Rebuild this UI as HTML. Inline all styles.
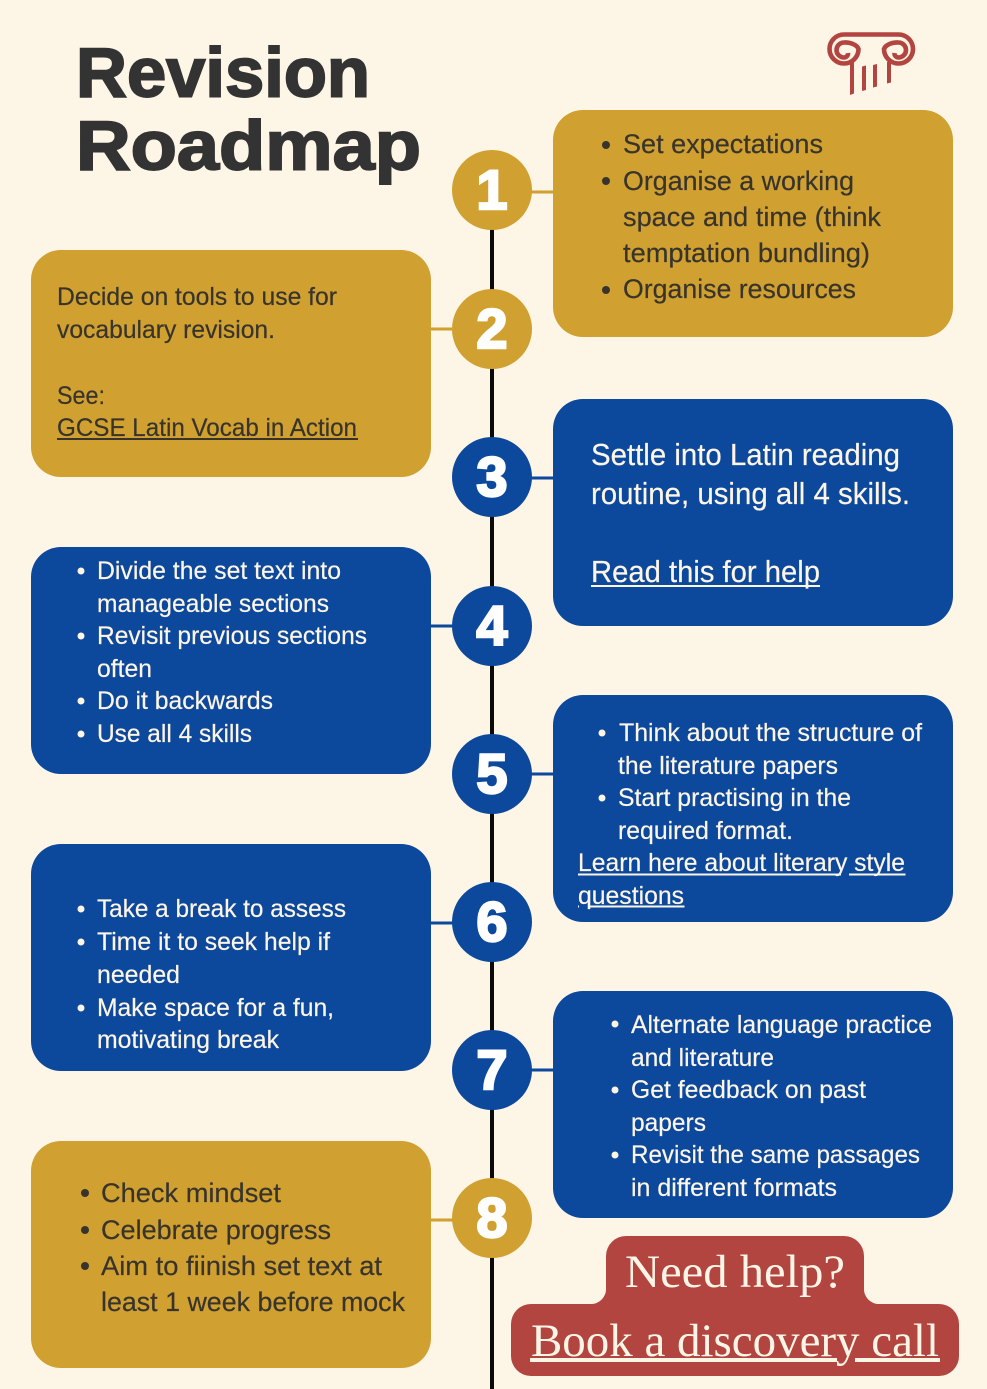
<!DOCTYPE html>
<html><head><meta charset="utf-8">
<style>
html,body{margin:0;padding:0;background:#FDF5E6;}
svg{display:block;}
text{font-family:"Liberation Sans",sans-serif;white-space:pre;}
.g{fill:#38342c;font-size:27px;stroke:#38342c;stroke-width:.2px;}
.s{fill:#38342c;font-size:25px;stroke:#38342c;stroke-width:.2px;}
.w{fill:#FDF5E6;font-size:25px;stroke:#FDF5E6;stroke-width:.2px;}
.b{fill:#FDF5E6;font-size:31px;stroke:#FDF5E6;stroke-width:.2px;}
.n{fill:#fff;font-size:56px;font-weight:bold;stroke:#fff;stroke-width:2.4px;text-anchor:middle;}
.t{fill:#333;font-size:70px;font-weight:bold;stroke:#333;stroke-width:1.9px;}
.r{fill:#FDF5E6;font-family:"Liberation Serif",serif;font-size:47px;}
</style></head><body>
<svg xmlns="http://www.w3.org/2000/svg" width="987" height="1389" viewBox="0 0 987 1389">
<rect width="987" height="1389" fill="#FDF5E6"/>

<!-- title -->
<text class="t" x="76" y="96.500" textLength="294" lengthAdjust="spacingAndGlyphs">Revision</text>
<text class="t" x="76" y="169.500" textLength="345" lengthAdjust="spacingAndGlyphs">Roadmap</text>

<!-- column icon -->
<g fill="none" stroke="#B34540" stroke-width="4.6">
<path d="M844 34.500H898.500"/>
<path d="M844 34.500A14.500 14.500 0 0 0 844 63.500A14.500 14.500 0 0 0 858.500 49A14 8 0 0 0 844 42.500A7.500 7.500 0 0 0 844 57.500A4 4 0 0 0 848 53"/>
<path d="M898.500 34.500A14.500 14.500 0 0 1 898.500 63.500A14.500 14.500 0 0 1 884 49A14 8 0 0 1 898.500 42.500A7.500 7.500 0 0 1 898.500 57.500A4 4 0 0 1 894.500 53"/>
</g>
<g fill="#B34540">
<polygon points="850,62 854,62 854,93.500 850,95"/>
<polygon points="862,66.500 866,65.500 866,90 862,91"/>
<polygon points="873,65 877,64 877,86.500 873,87.500"/>
<polygon points="887,62 891,62 891,82.500 887,83.500"/>
</g>

<!-- spine -->
<rect x="490" y="190" width="4" height="1199" fill="#0a0a0a"/>

<!-- connectors -->
<g>
<rect x="530" y="190.500" width="25" height="3" fill="#D0A030"/>
<rect x="429" y="327.500" width="25" height="3" fill="#D0A030"/>
<rect x="530" y="476.500" width="25" height="3" fill="#0C489C"/>
<rect x="429" y="624.500" width="25" height="3" fill="#0C489C"/>
<rect x="530" y="772.500" width="25" height="3" fill="#0C489C"/>
<rect x="429" y="921.500" width="25" height="3" fill="#0C489C"/>
<rect x="530" y="1068.500" width="25" height="3" fill="#0C489C"/>
<rect x="429" y="1218.500" width="25" height="3" fill="#D0A030"/>
</g>

<!-- boxes -->
<rect x="553" y="110" width="400" height="227" rx="30" fill="#D0A030"/>
<rect x="31" y="250" width="400" height="227" rx="30" fill="#D0A030"/>
<rect x="553" y="399" width="400" height="227" rx="30" fill="#0C489C"/>
<rect x="31" y="547" width="400" height="227" rx="30" fill="#0C489C"/>
<rect x="553" y="695" width="400" height="227" rx="30" fill="#0C489C"/>
<rect x="31" y="844" width="400" height="227" rx="30" fill="#0C489C"/>
<rect x="553" y="991" width="400" height="227" rx="30" fill="#0C489C"/>
<rect x="31" y="1141" width="400" height="227" rx="30" fill="#D0A030"/>

<!-- circles -->
<circle cx="492" cy="190" r="40" fill="#D0A030"/>
<circle cx="492" cy="329" r="40" fill="#D0A030"/>
<circle cx="492" cy="477" r="40" fill="#0C489C"/>
<circle cx="492" cy="626" r="40" fill="#0C489C"/>
<circle cx="492" cy="774" r="40" fill="#0C489C"/>
<circle cx="492" cy="922" r="40" fill="#0C489C"/>
<circle cx="492" cy="1070" r="40" fill="#0C489C"/>
<circle cx="492" cy="1218" r="40" fill="#D0A030"/>
<text class="n" x="492" y="209">1</text>
<text class="n" x="492" y="348">2</text>
<text class="n" x="492" y="496">3</text>
<text class="n" x="492" y="645">4</text>
<text class="n" x="492" y="793">5</text>
<text class="n" x="492" y="941">6</text>
<text class="n" x="492" y="1089">7</text>
<text class="n" x="492" y="1237">8</text>

<!-- box 1 -->
<g fill="#38342c"><circle cx="606" cy="145" r="4"/><circle cx="606" cy="181" r="4"/><circle cx="606" cy="290" r="4"/></g>
<text class="g" x="623" y="153" textLength="200" lengthAdjust="spacingAndGlyphs">Set expectations</text>
<text class="g" x="623" y="190" textLength="231" lengthAdjust="spacingAndGlyphs">Organise a working</text>
<text class="g" x="623" y="226" textLength="258" lengthAdjust="spacingAndGlyphs">space and time (think</text>
<text class="g" x="623" y="262" textLength="247" lengthAdjust="spacingAndGlyphs">temptation bundling)</text>
<text class="g" x="623" y="298" textLength="233" lengthAdjust="spacingAndGlyphs">Organise resources</text>

<!-- box 2 -->
<text class="s" x="57" y="305" textLength="280" lengthAdjust="spacingAndGlyphs">Decide on tools to use for</text>
<text class="s" x="57" y="338" textLength="218" lengthAdjust="spacingAndGlyphs">vocabulary revision.</text>
<text class="s" x="57" y="404" textLength="48" lengthAdjust="spacingAndGlyphs">See:</text>
<text class="s" x="57" y="436" textLength="300" lengthAdjust="spacingAndGlyphs">GCSE Latin Vocab in Action</text>
<rect x="57" y="438" width="301" height="2" fill="#38342c"/>

<!-- box 3 -->
<text class="b" x="591" y="465" textLength="309" lengthAdjust="spacingAndGlyphs">Settle into Latin reading</text>
<text class="b" x="591" y="504" textLength="319" lengthAdjust="spacingAndGlyphs">routine, using all 4 skills.</text>
<text class="b" x="591" y="582" textLength="229" lengthAdjust="spacingAndGlyphs">Read this for help</text>
<rect x="591" y="585" width="229" height="2" fill="#FDF5E6"/>

<!-- box 4 -->
<g fill="#FDF5E6"><circle cx="81" cy="571" r="3.5"/><circle cx="81" cy="636" r="3.5"/><circle cx="81" cy="701" r="3.5"/><circle cx="81" cy="734" r="3.5"/></g>
<text class="w" x="97" y="579" textLength="244" lengthAdjust="spacingAndGlyphs">Divide the set text into</text>
<text class="w" x="97" y="612" textLength="232" lengthAdjust="spacingAndGlyphs">manageable sections</text>
<text class="w" x="97" y="644" textLength="270" lengthAdjust="spacingAndGlyphs">Revisit previous sections</text>
<text class="w" x="97" y="677" textLength="55" lengthAdjust="spacingAndGlyphs">often</text>
<text class="w" x="97" y="709" textLength="176" lengthAdjust="spacingAndGlyphs">Do it backwards</text>
<text class="w" x="97" y="742" textLength="155" lengthAdjust="spacingAndGlyphs">Use all 4 skills</text>

<!-- box 5 -->
<g fill="#FDF5E6"><circle cx="602" cy="733" r="3.5"/><circle cx="602" cy="798" r="3.5"/></g>
<text class="w" x="619" y="741" textLength="303" lengthAdjust="spacingAndGlyphs">Think about the structure of</text>
<text class="w" x="618" y="774" textLength="220" lengthAdjust="spacingAndGlyphs">the literature papers</text>
<text class="w" x="618" y="806" textLength="233" lengthAdjust="spacingAndGlyphs">Start practising in the</text>
<text class="w" x="618" y="839" textLength="175" lengthAdjust="spacingAndGlyphs">required format.</text>
<text class="w" x="578" y="871" textLength="327" lengthAdjust="spacingAndGlyphs">Learn here about literary style</text>
<text class="w" x="578" y="904" textLength="106" lengthAdjust="spacingAndGlyphs">questions</text>
<path d="M578 874.500H841M849 874.500H905.500M578 906.500H579M590 906.500H684.500" stroke="#FDF5E6" stroke-width="2" fill="none"/>

<!-- box 6 -->
<g fill="#FDF5E6"><circle cx="81" cy="909" r="3.5"/><circle cx="81" cy="942" r="3.5"/><circle cx="81" cy="1008" r="3.5"/></g>
<text class="w" x="97" y="917" textLength="249" lengthAdjust="spacingAndGlyphs">Take a break to assess</text>
<text class="w" x="97" y="950" textLength="233" lengthAdjust="spacingAndGlyphs">Time it to seek help if</text>
<text class="w" x="97" y="983" textLength="83" lengthAdjust="spacingAndGlyphs">needed</text>
<text class="w" x="97" y="1016" textLength="237" lengthAdjust="spacingAndGlyphs">Make space for a fun,</text>
<text class="w" x="97" y="1048" textLength="182" lengthAdjust="spacingAndGlyphs">motivating break</text>

<!-- box 7 -->
<g fill="#FDF5E6"><circle cx="615" cy="1024" r="3.5"/><circle cx="615" cy="1090" r="3.5"/><circle cx="615" cy="1155" r="3.5"/></g>
<text class="w" x="631" y="1033" textLength="301" lengthAdjust="spacingAndGlyphs">Alternate language practice</text>
<text class="w" x="631" y="1066" textLength="143" lengthAdjust="spacingAndGlyphs">and literature</text>
<text class="w" x="631" y="1098" textLength="235" lengthAdjust="spacingAndGlyphs">Get feedback on past</text>
<text class="w" x="631" y="1131" textLength="75" lengthAdjust="spacingAndGlyphs">papers</text>
<text class="w" x="631" y="1163" textLength="289" lengthAdjust="spacingAndGlyphs">Revisit the same passages</text>
<text class="w" x="631" y="1196" textLength="206" lengthAdjust="spacingAndGlyphs">in different formats</text>

<!-- box 8 -->
<g fill="#38342c"><circle cx="85" cy="1193" r="4"/><circle cx="85" cy="1230" r="4"/><circle cx="85" cy="1266" r="4"/></g>
<text class="g" x="101" y="1202" textLength="180" lengthAdjust="spacingAndGlyphs">Check mindset</text>
<text class="g" x="101" y="1239" textLength="230" lengthAdjust="spacingAndGlyphs">Celebrate progress</text>
<text class="g" x="101" y="1275" textLength="281" lengthAdjust="spacingAndGlyphs">Aim to fiinish set text at</text>
<text class="g" x="101" y="1311" textLength="304" lengthAdjust="spacingAndGlyphs">least 1 week before mock</text>

<!-- call to action -->
<path fill="#B34540" d="M626 1236H844A20 20 0 0 1 864 1256V1288A15 15 0 0 0 880 1304H939A20 20 0 0 1 959 1324V1356A20 20 0 0 1 939 1376H531A20 20 0 0 1 511 1356V1324A20 20 0 0 1 531 1304H590A15 15 0 0 0 606 1288V1256A20 20 0 0 1 626 1236Z"/>
<text class="r" x="625" y="1287" textLength="220" lengthAdjust="spacingAndGlyphs">Need help?</text>
<text class="r" x="531" y="1356" textLength="408" lengthAdjust="spacingAndGlyphs">Book a discovery call</text>
<path d="M530 1360H837M855 1360H940" stroke="#FDF5E6" stroke-width="4" fill="none"/>
</svg>
</body></html>
